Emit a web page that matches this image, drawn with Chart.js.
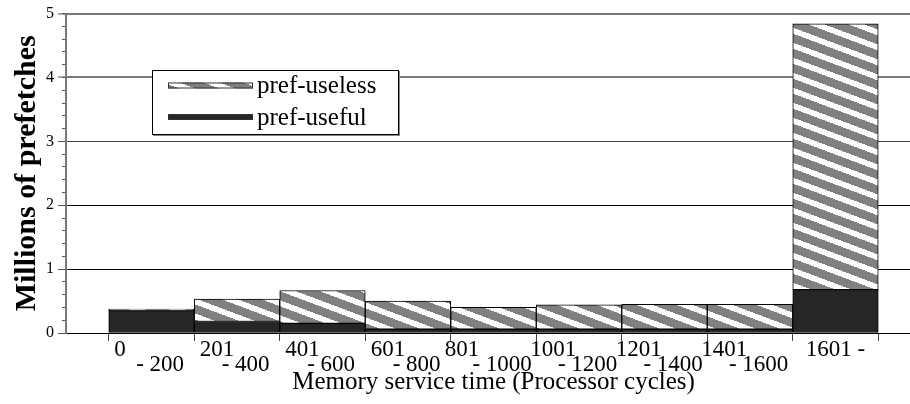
<!DOCTYPE html>
<html>
<head>
<meta charset="utf-8">
<script src="https://cdn.jsdelivr.net/npm/chart.js@4/dist/chart.umd.min.js"></script>
<style>
  html, body { margin: 0; padding: 0; overflow: hidden; background: #fff; }
  canvas { display: block; }
</style>
</head>
<body>
<canvas id="chart" width="925" height="404"></canvas>
<script>
// Memory service time buckets (two-line labels: range start / range end)
const categories = [
  ['0', '- 200'], ['201', '- 400'], ['401', '- 600'], ['601', '- 800'],
  ['801', '- 1000'], ['1001', '- 1200'], ['1201', '- 1400'], ['1401', '- 1600'],
  ['1601 -']
];
// Millions of prefetches per bucket
const prefUseful  = [0.35, 0.18, 0.15, 0.06, 0.06, 0.06, 0.06, 0.06, 0.68];
const prefUseless = [0.025, 0.35, 0.515, 0.44, 0.34, 0.38, 0.39, 0.39, 4.16];
const seriesNames = ['pref-useful', 'pref-useless'];
const yTickLabels = ['0', '1', '2', '3', '4', '5'];

const SERIF = '"Liberation Serif", "Times New Roman", serif';
const TICK_FONT_SIZE = 23;
const canvas = document.getElementById('chart');
const ctx = canvas.getContext('2d');

// Diagonal gray/white hatch used for the useless prefetches
function hatchPattern() {
  const w = 40, h = 15;
  const tile = document.createElement('canvas');
  tile.width = w; tile.height = h;
  const g = tile.getContext('2d');
  const img = g.createImageData(w, h);
  for (let y = 0; y < h; y++) {
    for (let x = 0; x < w; x++) {
      const p = (((y - 0.375 * x) % h) + h) % h;
      const v = p < 6 ? 255 : 128;
      const i = (y * w + x) * 4;
      img.data[i] = img.data[i + 1] = img.data[i + 2] = v;
      img.data[i + 3] = 255;
    }
  }
  g.putImageData(img, 0, 0);
  return ctx.createPattern(tile, 'repeat');
}

// Staggered tick labels: first line shifted left, second shifted right
const meas = document.createElement('canvas').getContext('2d');
meas.font = TICK_FONT_SIZE + 'px ' + SERIF;
const spaceW = meas.measureText(' ').width;
function stagger(lines) {
  if (lines.length < 2) return lines[0];
  const [top, bottom] = lines;
  const w1 = meas.measureText(top).width;
  const w2 = meas.measureText(bottom).width;
  const n1 = Math.max(0, Math.round((1.6 * w2 - w1) / spaceW));
  const n2 = Math.max(0, Math.round((0.32 * w2) / spaceW));
  return [top + ' '.repeat(n1), ' '.repeat(n2) + bottom];
}

// Empty slots at both ends leave half a bucket of space beside the bars
const labels = [''].concat(categories, ['']);
const pad = arr => [null].concat(arr, [null]);

// Boxed legend drawn inside the plot area
const boxLegend = {
  id: 'boxLegend',
  afterDraw(chart, args, o) {
    const c = chart.ctx;
    c.save();
    c.fillStyle = '#888';
    c.fillRect(o.left + 1, o.top + o.height, o.width, 1);
    c.fillRect(o.left + o.width, o.top + 1, 1, o.height);
    c.fillStyle = '#fff';
    c.fillRect(o.left, o.top, o.width, o.height);
    c.strokeStyle = '#000';
    c.lineWidth = 1;
    c.strokeRect(o.left + 0.5, o.top + 0.5, o.width - 1, o.height - 1);
    const sets = chart.data.datasets.slice().reverse();
    sets.forEach((ds, i) => {
      const y = o.rows[i];
      c.fillStyle = ds.backgroundColor;
      c.fillRect(o.swatchX, y - 3, o.swatchW, 6);
      c.strokeStyle = '#333';
      c.strokeRect(o.swatchX + 0.5, y - 2.5, o.swatchW - 1, 5);
      c.fillStyle = '#000';
      c.font = '25px ' + SERIF;
      c.textBaseline = 'middle';
      c.textAlign = 'left';
      c.fillText(ds.label, o.textX, y + 1);
    });
    c.restore();
  }
};

new Chart(ctx, {
  type: 'bar',
  data: {
    labels: labels,
    datasets: [
      {
        label: seriesNames[0],
        data: pad(prefUseful),
        backgroundColor: '#262626',
        borderColor: '#000',
        borderWidth: 1,
        borderSkipped: false
      },
      {
        label: seriesNames[1],
        data: pad(prefUseless),
        backgroundColor: hatchPattern(),
        borderColor: '#000',
        borderWidth: 1,
        borderSkipped: false
      }
    ]
  },
  options: {
    responsive: false,
    animation: false,
    events: [],
    barPercentage: 1,
    categoryPercentage: 1,
    layout: { padding: { top: 13, right: 4, bottom: 0, left: 0 } },
    plugins: {
      legend: { display: false },
      tooltip: { enabled: false },
      boxLegend: {
        left: 152, top: 70, width: 247, height: 65,
        rows: [85.5, 117], swatchX: 168, swatchW: 85, textX: 257
      }
    },
    scales: {
      x: {
        type: 'category',
        stacked: true,
        offset: false,
        grid: {
          offset: true,
          drawOnChartArea: false,
          drawTicks: true,
          tickLength: 8,
          tickColor: '#444'
        },
        border: { display: true, color: '#000', width: 1 },
        ticks: {
          autoSkip: false,
          maxRotation: 0,
          minRotation: 0,
          padding: 1,
          color: '#000',
          font: { family: SERIF, size: TICK_FONT_SIZE, lineHeight: 0.67 },
          callback(value) {
            const lab = this.getLabelForValue(value);
            return Array.isArray(lab) ? stagger(lab) : lab;
          }
        },
        title: {
          display: true,
          text: 'Memory service time (Processor cycles)',
          color: '#000',
          font: { family: SERIF, size: 25 },
          padding: { top: 0, bottom: 7 }
        },
        afterFit(scale) { scale.height = 71; }
      },
      y: {
        type: 'linear',
        position: 'left',
        stacked: true,
        min: 0,
        max: 5,
        weight: 1,
        grid: {
          color: c => c.tick.value >= 4 ? '#7a7a7a' : (c.tick.value === 3 ? '#444' : '#000'),
          lineWidth: c => c.tick.value >= 4 ? 2 : 1,
          tickColor: '#555',
          tickWidth: 1,
          tickLength: 8
        },
        border: { display: true, color: '#777', width: 2 },
        ticks: {
          stepSize: 1,
          padding: 4,
          color: '#000',
          font: { family: SERIF, size: 16 },
          callback: (v) => yTickLabels[Math.round(v)] ?? ''
        },
        title: {
          display: true,
          text: 'Millions of prefetches',
          color: '#000',
          font: { family: SERIF, size: 30, weight: 'bold' },
          padding: { top: 9, bottom: 0 }
        },
        afterFit(scale) { scale.width = 66; }
      },
      yMinor: {
        type: 'linear',
        position: 'left',
        min: 0,
        max: 5,
        weight: 0,
        grid: {
          drawOnChartArea: false,
          drawTicks: true,
          tickLength: 4,
          tickColor: '#555'
        },
        border: { display: false },
        ticks: { display: false, stepSize: 0.2 },
        afterFit(scale) { scale.width = 0; }
      }
    }
  },
  plugins: [boxLegend]
});
</script>
</body>
</html>
